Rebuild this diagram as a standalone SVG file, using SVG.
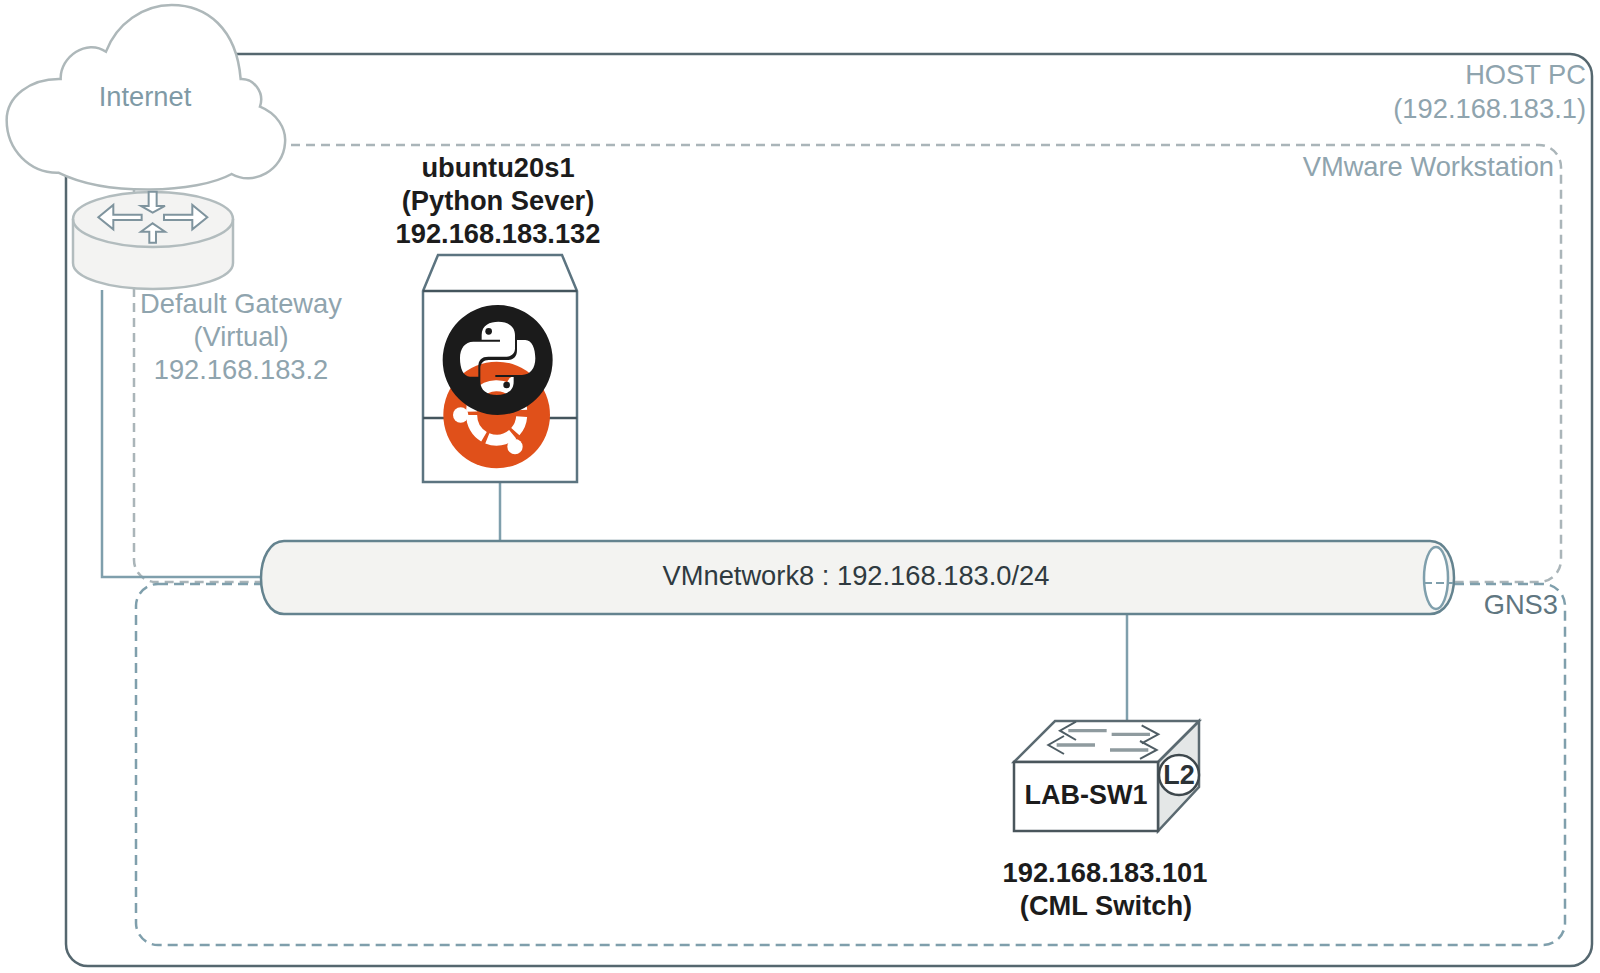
<svg xmlns="http://www.w3.org/2000/svg" width="1600" height="973" viewBox="0 0 1600 973">
<style>
text{font-family:"Liberation Sans",Arial,sans-serif}
.lab{font-size:27.3px;fill:#8fa4ae;text-anchor:middle}
.labr{font-size:27.3px;fill:#8fa4ae;text-anchor:end}
.bold{font-size:27.3px;font-weight:700;fill:#1c1c1c;text-anchor:middle}
.edge{fill:none;stroke:#7f9fac;stroke-width:2.5}
.ra{fill:#fff;stroke:#7f949e;stroke-width:6}
.sh{fill:none;stroke:#8f9b9f;stroke-width:10}
.hd{fill:none;stroke:#4f5d64;stroke-width:6}
</style>
<rect width="1600" height="973" fill="#fff"/>
<g id="host-pc">
<rect x="66" y="54" width="1526" height="912" rx="22" fill="#fff" stroke="#55676f" stroke-width="2.5"/>
<text class="labr" x="1586" y="84">HOST PC</text>
<text class="labr" x="1586" y="118">(192.168.183.1)</text>
</g>
<g id="vmware-workstation">
<rect x="134" y="145" width="1427" height="437" rx="22" fill="none" stroke="#aab5b9" stroke-width="2.5" stroke-dasharray="9 6"/>
<text class="labr" x="1554" y="176">VMware Workstation</text>
</g>
<g id="gns3">
<rect x="136" y="584" width="1429" height="361" rx="22" fill="none" stroke="#7f9fac" stroke-width="2.5" stroke-dasharray="10 6"/>
<text class="labr" x="1558" y="614" style="fill:#5f7680">GNS3</text>
</g>
<g id="connectors">
<path class="edge" d="M102 290V577H262"/>
<path class="edge" d="M500 482V541"/>
<path class="edge" d="M1127 614V721"/>
</g>
<g id="vmnetwork8">
<path d="M284 541H1430C1445 541 1454 558 1454 578C1454 598 1445 614 1430 614H284C270 614 261 598 261 578C261 558 270 541 284 541Z" fill="#f3f3f1" stroke="#64838f" stroke-width="2.5"/>
<ellipse cx="1436" cy="578" rx="12" ry="31" fill="#fff" stroke="#7f9fac" stroke-width="2.5"/>
<path d="M1424 583H1453" stroke="#7f9fac" stroke-width="2" stroke-dasharray="8 4" fill="none"/>
<text x="856" y="585" font-size="27.3" fill="#2f3a40" text-anchor="middle">VMnetwork8 : 192.168.183.0/24</text>
</g>
<g id="default-gateway">
<path d="M73 219C73 204 109 192 153 192C197 192 233 204 233 219V263C233 278 197 289 153 289C109 289 73 278 73 263Z" fill="#f3f3f2" stroke="#b2bcbe" stroke-width="2.5"/>
<path d="M73 219C73 234 109 247 153 247C197 247 233 234 233 219" fill="none" stroke="#b2bcbe" stroke-width="2.5"/>
<g transform="scale(.3333)">
<path class="ra" d="M295 652L340 615V644H425V660H340V688Z"/>
<path class="ra" d="M622 652L577 615V644H492V660H577V688Z"/>
<path class="ra" d="M458 670L495 695H468V728H448V695H423Z"/>
<path class="ra" d="M458 638L495 618H470V575H446V618H423Z"/>
</g>
<text class="lab" x="241" y="313">Default Gateway</text>
<text class="lab" x="241" y="346">(Virtual)</text>
<text class="lab" x="241" y="379">192.168.183.2</text>
</g>
<g id="internet">
<path transform="scale(.3333)" d="M318 155C350 70 430 15 515 15C620 15 710 85 722 237C760 235 795 275 780 320C830 340 860 385 855 430C850 510 760 560 695 522C590 580 320 590 175 518C90 520 20 450 20 360C20 290 90 235 182 237C180 170 260 115 318 155Z" fill="#fff" stroke="#aeb8ba" stroke-width="7.5"/>
<text x="145" y="106" font-size="27.3" style="fill:#7f9aa6;text-anchor:middle">Internet</text>
</g>
<g id="ubuntu20s1">
<path d="M423 291L438 255H562L577 291V482H423Z" fill="#fff" stroke="#5c7480" stroke-width="2.5"/>
<path d="M423 291H577M423 418H577" fill="none" stroke="#44555d" stroke-width="2.5"/>
<g transform="translate(400 240) scale(.3333)">
<circle cx="290" cy="525" r="160" fill="#e0501a"/>
<g fill="none" stroke="#fff" stroke-width="33">
<path d="M215 525A75 75 0 0 0 252 590"/>
<path d="M262 595A75 75 0 0 0 338 583"/>
<path d="M346 575A75 75 0 0 0 365 530"/>
<path d="M365 510A75 75 0 0 0 215 515"/>
</g>
<g fill="#fff"><circle cx="182" cy="525" r="23"/><circle cx="345" cy="620" r="23"/><circle cx="345" cy="431" r="23"/></g>
<path fill="#1b1b1b" fill-rule="evenodd" d="M128 360A165 165 0 1 1 458 360A165 165 0 1 1 128 360Z
M245 285C245 255 270 245 295 245C325 245 345 260 345 285V325C345 340 335 350 320 350H265C245 350 235 360 235 380V410H210C190 410 180 385 180 355C180 325 195 305 220 305H300V299H245Z
M341 425C341 455 316 465 291 465C261 465 241 450 241 425V385C241 370 251 360 266 360H321C341 360 351 350 351 330V300H376C396 300 406 325 406 355C406 385 391 405 366 405H286V411H341Z"/>
<circle cx="266" cy="274" r="10" fill="#1b1b1b"/>
<circle cx="320" cy="435" r="10" fill="#1b1b1b"/>
</g>
<text class="bold" x="498" y="177">ubuntu20s1</text>
<text class="bold" x="498" y="210">(Python Sever)</text>
<text class="bold" x="498" y="243">192.168.183.132</text>
</g>
<g id="lab-sw1">
<path d="M1158 762L1199 721V787L1158 831Z" fill="#e4e7e7" stroke="#5b6a71" stroke-width="2.5"/>
<path d="M1014 762L1055 721H1199L1158 762Z" fill="#fff" stroke="#5b6a71" stroke-width="2.5"/>
<rect x="1014" y="762" width="144" height="69" fill="#fff" stroke="#4a565c" stroke-width="2.5"/>
<g transform="translate(990 700) scale(.3333)">
<path class="sh" d="M350 92H235M365 103H480M315 135H200M360 150H475"/>
<path class="hd" d="M258 65L210 92L258 120M455 76L505 103L455 130M222 108L175 135L222 162M450 123L500 150L450 177"/>
</g>
<circle cx="1179" cy="775" r="20" fill="#fff" stroke="#3e484d" stroke-width="2.5"/>
<text x="1179" y="784" font-size="27" font-weight="700" style="fill:#2b3236;text-anchor:middle">L2</text>
<text x="1086" y="804" font-size="27" font-weight="700" style="fill:#1c1c1c;text-anchor:middle">LAB-SW1</text>
<text class="bold" x="1105" y="882">192.168.183.101</text>
<text class="bold" x="1106" y="915">(CML Switch)</text>
</g>
</svg>
